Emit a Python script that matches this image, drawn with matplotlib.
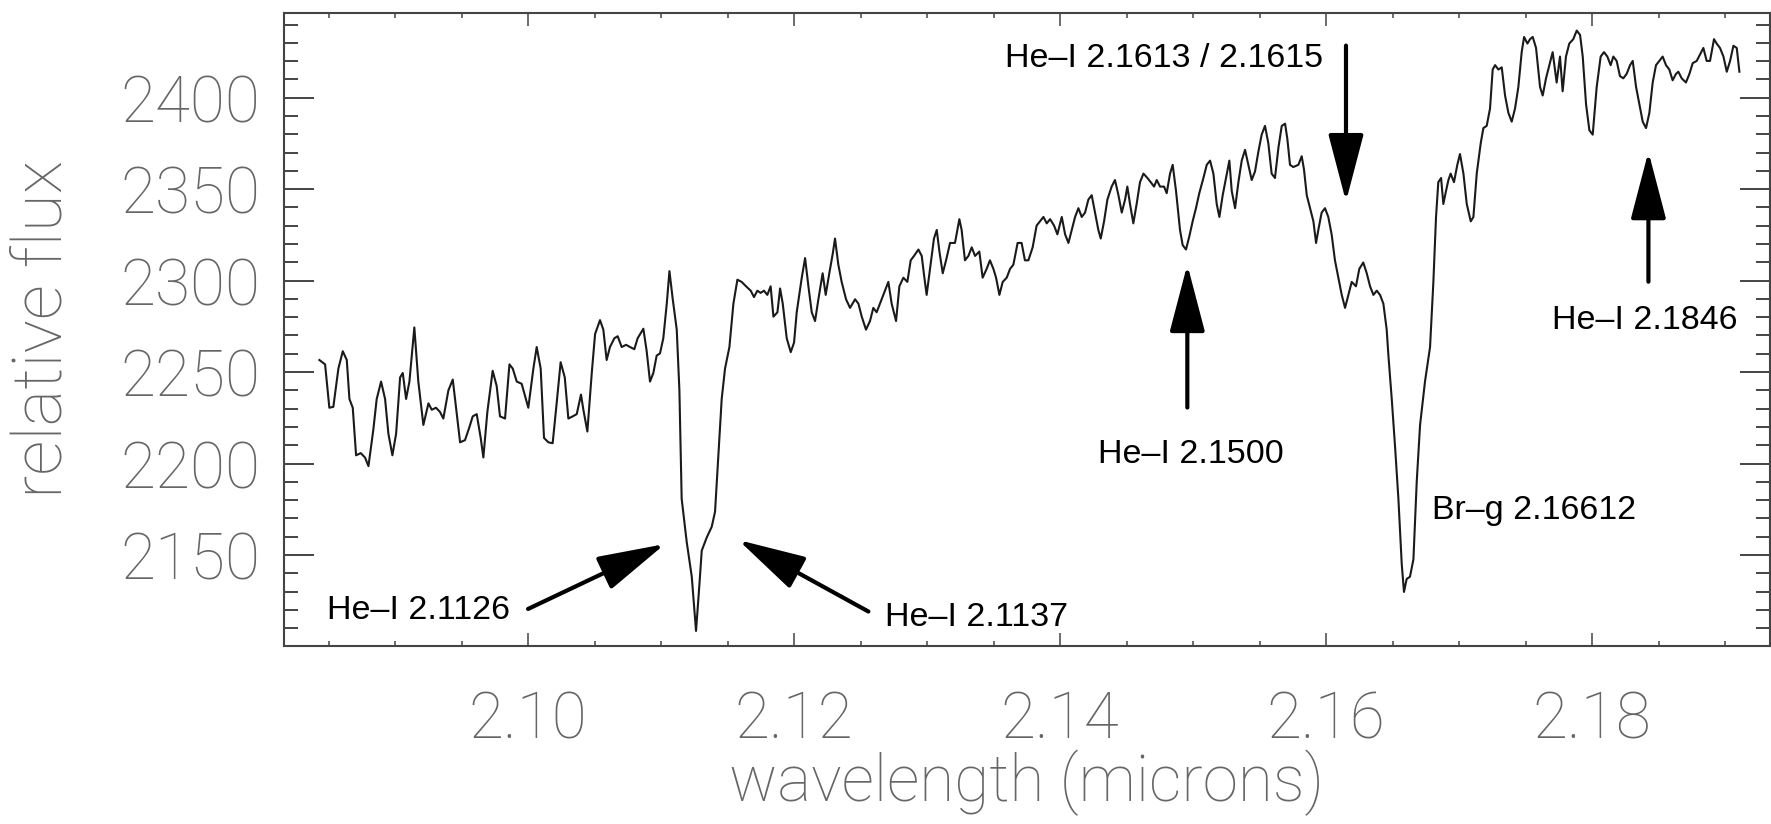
import matplotlib
matplotlib.use("Agg")
import matplotlib.pyplot as plt
from matplotlib.ticker import MultipleLocator, FixedLocator

# spectrum (microns, relative flux)
wavelength = [
    2.08431, 2.08474, 2.08506, 2.08536, 2.08574, 2.08607, 2.08637, 2.08657, 2.08682, 2.08707,
    2.08742, 2.08774, 2.08800, 2.08837, 2.08862, 2.08895, 2.08925, 2.08950, 2.08980, 2.09008,
    2.09038, 2.09058, 2.09083, 2.09108, 2.09145, 2.09175, 2.09213, 2.09251, 2.09276, 2.09308,
    2.09338, 2.09363, 2.09401, 2.09434, 2.09459, 2.09489, 2.09526, 2.09559, 2.09584, 2.09614,
    2.09644, 2.09664, 2.09694, 2.09734, 2.09764, 2.09789, 2.09827, 2.09860, 2.09885, 2.09915,
    2.09952, 2.10002, 2.10040, 2.10065, 2.10095, 2.10120, 2.10153, 2.10185, 2.10215, 2.10245,
    2.10276, 2.10303, 2.10336, 2.10366, 2.10398, 2.10416, 2.10446, 2.10479, 2.10504, 2.10541,
    2.10566, 2.10591, 2.10616, 2.10649, 2.10674, 2.10704, 2.10737, 2.10767, 2.10799, 2.10824,
    2.10867, 2.10892, 2.10917, 2.10942, 2.10967, 2.10992, 2.11017,
    2.11043, 2.11063, 2.11088, 2.11118, 2.11138, 2.11155, 2.11193, 2.11231, 2.11263, 2.11288,
    2.11306, 2.11343, 2.11381, 2.11406, 2.11431, 2.11456, 2.11481, 2.11514, 2.11544, 2.11574,
    2.11606, 2.11639, 2.11674, 2.11699, 2.11724, 2.11749, 2.11774, 2.11799, 2.11824, 2.11845,
    2.11875, 2.11895, 2.11915, 2.11945, 2.11975, 2.12000, 2.12020, 2.12058, 2.12083, 2.12108,
    2.12133, 2.12158, 2.12183, 2.12215, 2.12238, 2.12265, 2.12291, 2.12308, 2.12333, 2.12358,
    2.12391, 2.12421, 2.12459, 2.12484, 2.12509, 2.12541, 2.12571, 2.12596, 2.12621, 2.12646,
    2.12672, 2.12709, 2.12734, 2.12767, 2.12792, 2.12822, 2.12852, 2.12877, 2.12902, 2.12935,
    2.12960, 2.12980, 2.12997, 2.13022, 2.13052, 2.13073, 2.13093, 2.13118, 2.13143, 2.13173,
    2.13210, 2.13243, 2.13260, 2.13285, 2.13311, 2.13336, 2.13361, 2.13393, 2.13418, 2.13448,
    2.13473, 2.13499, 2.13519, 2.13544, 2.13569, 2.13599, 2.13624, 2.13649, 2.13681, 2.13711,
    2.13736, 2.13762, 2.13794, 2.13824,
    2.13875, 2.13900, 2.13925, 2.13955, 2.13980, 2.14013, 2.14038, 2.14063, 2.14088, 2.14113,
    2.14138, 2.14163, 2.14188, 2.14213, 2.14238, 2.14263, 2.14288, 2.14306, 2.14331, 2.14356,
    2.14388, 2.14413, 2.14439, 2.14464, 2.14489, 2.14506, 2.14526, 2.14551, 2.14576, 2.14601,
    2.14627, 2.14657, 2.14682, 2.14707, 2.14727, 2.14752, 2.14782, 2.14802, 2.14827, 2.14847,
    2.14872, 2.14902, 2.14922, 2.14947, 2.14972, 2.14997, 2.15022, 2.15047, 2.15078, 2.15103,
    2.15128, 2.15153, 2.15178, 2.15198, 2.15223, 2.15248, 2.15273, 2.15291, 2.15316, 2.15341,
    2.15366, 2.15391, 2.15416, 2.15441, 2.15466, 2.15491, 2.15516, 2.15541, 2.15566, 2.15591,
    2.15616, 2.15642, 2.15667, 2.15692, 2.15709, 2.15729, 2.15754, 2.15792, 2.15817, 2.15834,
    2.15855, 2.15880, 2.15905, 2.15925, 2.15942, 2.15967, 2.15992, 2.16017, 2.16042, 2.16067,
    2.16093, 2.16118, 2.16143, 2.16168, 2.16193, 2.16225, 2.16250, 2.16280, 2.16306, 2.16331,
    2.16356, 2.16381, 2.16406, 2.16431, 2.16456,
    2.16469, 2.16494, 2.16519, 2.16544, 2.16569, 2.16586, 2.16606, 2.16631, 2.16657, 2.16682,
    2.16707, 2.16744, 2.16782, 2.16807, 2.16827, 2.16844, 2.16865, 2.16882, 2.16902, 2.16920,
    2.16937, 2.16962, 2.16987, 2.17007, 2.17033, 2.17058, 2.17088, 2.17108, 2.17133, 2.17163,
    2.17183, 2.17208, 2.17233, 2.17253, 2.17271, 2.17296, 2.17321, 2.17346, 2.17371, 2.17396,
    2.17421, 2.17446, 2.17471, 2.17489, 2.17514, 2.17534, 2.17554, 2.17579, 2.17609, 2.17629,
    2.17654, 2.17679, 2.17704, 2.17734, 2.17759, 2.17779, 2.17804, 2.17829, 2.17859, 2.17885,
    2.17910, 2.17930, 2.17955, 2.17980, 2.18005, 2.18035, 2.18065, 2.18090, 2.18115, 2.18140,
    2.18160, 2.18185, 2.18210, 2.18235, 2.18260, 2.18286, 2.18306, 2.18331, 2.18356, 2.18381,
    2.18406, 2.18431, 2.18456, 2.18481, 2.18506, 2.18531, 2.18556, 2.18581, 2.18606, 2.18631,
    2.18649, 2.18674, 2.18706, 2.18732, 2.18757, 2.18787, 2.18812, 2.18837, 2.18862, 2.18887,
    2.18917, 2.18937, 2.18962, 2.18988, 2.19013, 2.19038, 2.19063, 2.19088, 2.19108,
]
flux = [
    2256.6, 2254.2, 2230.5, 2231.0, 2251.9, 2261.4, 2256.6, 2235.3, 2230.5, 2204.5,
    2205.7, 2203.3, 2198.6, 2218.7, 2235.3, 2244.8, 2235.3, 2216.3, 2204.5, 2216.3,
    2247.1, 2249.5, 2235.3, 2244.8, 2274.4, 2244.8, 2221.1, 2232.9, 2229.4, 2230.5,
    2228.2, 2224.6, 2240.0, 2245.9, 2230.5, 2211.6, 2212.8, 2219.9, 2225.8, 2227.0,
    2214.0, 2203.3, 2228.2, 2250.7, 2242.4, 2225.8, 2224.6, 2254.2, 2251.9, 2244.8,
    2243.6, 2230.5, 2251.9, 2263.7, 2251.9, 2214.0, 2211.6, 2211.1, 2232.9, 2255.4,
    2247.1, 2224.6, 2225.8, 2227.0, 2237.7, 2229.4, 2217.5, 2249.5, 2270.8, 2278.4,
    2273.2, 2256.6, 2263.7, 2268.5, 2269.6, 2263.7, 2264.9, 2263.7, 2262.5, 2268.5,
    2273.7, 2261.4, 2244.8, 2249.5, 2259.0, 2260.2, 2268.5,
    2287.4, 2305.2, 2289.8, 2273.2, 2240.0, 2180.8, 2157.1, 2138.1, 2108.5, 2133.4,
    2152.4, 2159.5, 2165.4, 2173.7, 2204.5, 2235.3, 2251.9, 2263.7, 2287.4, 2300.5,
    2299.3, 2296.9, 2294.5, 2291.0, 2294.5, 2293.3, 2294.5, 2292.2, 2296.9, 2280.3,
    2282.7, 2295.7, 2287.4, 2268.5, 2260.9, 2266.1, 2282.7, 2301.6, 2312.3, 2296.9,
    2282.7, 2277.9, 2289.8, 2304.0, 2292.2, 2304.0, 2314.7, 2323.0, 2308.7, 2299.3,
    2289.8, 2285.1, 2289.8, 2287.4, 2280.3, 2273.2, 2277.9, 2285.1, 2282.7, 2287.4,
    2292.2, 2299.3, 2287.4, 2277.9, 2296.9, 2301.6, 2299.3, 2311.1, 2313.5, 2317.0,
    2313.5, 2301.6, 2292.2, 2306.4, 2323.0, 2327.7, 2315.9, 2304.0, 2311.1, 2320.6,
    2320.6, 2333.6, 2327.7, 2311.1, 2313.5, 2318.2, 2313.5, 2315.9, 2301.6, 2306.4,
    2311.1, 2306.4, 2301.6, 2292.2, 2299.3, 2301.6, 2306.4, 2308.7, 2320.6, 2320.6,
    2311.1, 2311.1, 2318.2, 2330.1,
    2334.8, 2331.3, 2333.6, 2330.1, 2325.3, 2334.8, 2325.3, 2320.6, 2327.7, 2334.8,
    2339.6, 2334.8, 2337.2, 2344.3, 2346.7, 2337.2, 2327.7, 2323.0, 2332.4, 2344.3,
    2351.4, 2355.0, 2346.7, 2337.2, 2344.3, 2351.4, 2341.9, 2331.3, 2341.9, 2353.8,
    2358.5, 2356.1, 2353.8, 2351.4, 2355.0, 2351.4, 2351.4, 2347.8, 2358.5, 2363.3,
    2349.0, 2327.7, 2319.4, 2317.0, 2324.2, 2332.4, 2339.6, 2347.8, 2356.1, 2363.3,
    2365.6, 2358.5, 2341.9, 2334.8, 2346.7, 2356.1, 2365.6, 2349.0, 2339.6, 2353.8,
    2365.6, 2371.5, 2363.3, 2355.0, 2359.7, 2370.4, 2379.8, 2384.6, 2375.1, 2358.5,
    2356.1, 2372.7, 2384.6, 2385.8, 2377.5, 2363.3, 2362.1, 2363.3, 2368.0, 2360.9,
    2346.7, 2339.6, 2332.4, 2320.6, 2327.7, 2337.2, 2339.6, 2334.8, 2325.3, 2311.1,
    2301.6, 2292.2, 2285.1, 2292.2, 2299.3, 2296.9, 2306.4, 2309.9, 2304.0, 2296.9,
    2292.2, 2294.5, 2292.2, 2287.4, 2273.2,
    2259.0, 2235.3, 2209.2, 2180.8, 2145.2, 2129.8, 2136.9, 2138.1, 2147.6, 2190.3,
    2221.1, 2244.8, 2263.7, 2299.3, 2334.8, 2353.8, 2356.1, 2341.9, 2349.0, 2355.0,
    2358.5, 2353.8, 2363.3, 2369.2, 2358.5, 2341.9, 2332.4, 2334.8, 2358.5, 2375.1,
    2383.4, 2384.6, 2394.1, 2415.4, 2417.8, 2415.4, 2416.6, 2401.2, 2391.7, 2386.9,
    2394.1, 2405.9, 2424.9, 2433.2, 2429.6, 2432.0, 2433.2, 2427.2, 2405.9, 2401.2,
    2410.6, 2417.8, 2424.9, 2408.3, 2422.5, 2403.5, 2422.5, 2429.6, 2432.0, 2436.7,
    2434.3, 2422.5, 2396.4, 2382.2, 2379.8, 2405.9, 2422.5, 2424.9, 2422.5, 2417.8,
    2422.5, 2420.1, 2411.8, 2410.6, 2413.0, 2417.8, 2420.1, 2405.9, 2396.4, 2386.9,
    2383.4, 2391.7, 2408.3, 2417.8, 2420.1, 2422.5, 2417.8, 2415.4, 2409.5, 2413.0,
    2414.2, 2410.6, 2408.3, 2413.0, 2418.9, 2420.1, 2423.7, 2427.2, 2420.1, 2420.1,
    2432.0, 2429.6, 2427.2, 2422.5, 2414.2, 2420.1, 2428.4, 2427.2, 2414.2,
]

x_ticks = [2.10, 2.12, 2.14, 2.16, 2.18]
x_tick_labels = ["2.10", "2.12", "2.14", "2.16", "2.18"]
y_ticks = [2150, 2200, 2250, 2300, 2350, 2400]

# line identifications: label, text anchor, alignment, arrow tail, arrow tip
line_labels = [
    ("He\u2013I 2.1126", (2.08489, 2119.7), "left", (2.1000, 2120.5), (2.1103, 2156.0)),
    ("He\u2013I 2.1137", (2.12684, 2116.1), "left", (2.12559, 2119.1), (2.11581, 2158.2)),
    ("He\u2013I 2.1613 / 2.1615", (2.13586, 2421.2), "left", (2.16150, 2428.5), (2.16150, 2343.2)),
    ("He\u2013I 2.1500", (2.14983, 2205.0), "center", (2.14957, 2230.6), (2.14957, 2308.8)),
    ("Br\u2013g 2.16612", (2.16795, 2174.1), "left", None, None),
    ("He\u2013I 2.1846", (2.18398, 2278.4), "center", (2.18424, 2299.4), (2.18424, 2370.5)),
]

plt.rcParams["font.family"] = ["Roboto", "DejaVu Sans"]
plt.rcParams["font.weight"] = "light"
plt.rcParams["axes.labelweight"] = "light"

fig = plt.figure(figsize=(17.71, 8.24), dpi=100)
ax = fig.add_axes([0.16036, 0.21602, 0.83907, 0.76857])

ax.plot(wavelength, flux, color="#1a1a1a", lw=1.5)

ax.set_xlim(2.08165, 2.19338)
ax.set_ylim(2100.25, 2446.47)

ax.xaxis.set_major_locator(FixedLocator(x_ticks))
ax.set_xticklabels(x_tick_labels)
ax.xaxis.set_minor_locator(MultipleLocator(0.005))
ax.yaxis.set_major_locator(FixedLocator(y_ticks))
ax.yaxis.set_minor_locator(MultipleLocator(10))

grey = "#666666"
ax.tick_params(which="both", direction="in", top=True, right=True, colors="#444444",
               labelcolor=grey, labelsize=46)
ax.tick_params(axis="x", which="major", length=9.4, width=1.1, pad=31)
ax.tick_params(axis="x", which="minor", length=3.6, width=1.1)
ax.tick_params(axis="y", which="major", length=21.6, width=1.4, pad=17)
ax.tick_params(axis="y", which="minor", length=10, width=1.4)
for sp in ax.spines.values():
    sp.set_color("#444444")
    sp.set_linewidth(1.5)

ax.set_xlabel("wavelength (microns)", fontsize=46, color=grey, fontweight="light")
ax.set_ylabel("relative flux", fontsize=50, color=grey, fontweight="light")
ax.xaxis.set_label_coords(0.5, -0.164)
ax.yaxis.set_label_coords(-0.140, 0.5)

for text, pos, ha, tail, tip in line_labels:
    ax.text(pos[0], pos[1], text, ha=ha, va="center", fontsize=24.5, color="black",
            fontweight="normal", family=["Liberation Sans", "DejaVu Sans"])
    if tail is not None:
        ax.annotate("", xy=tip, xytext=tail,
                    arrowprops=dict(arrowstyle="-|>,head_length=42,head_width=11",
                                    mutation_scale=1, lw=3, color="black",
                                    shrinkA=0, shrinkB=0))

fig.savefig("out.png", dpi=100)
